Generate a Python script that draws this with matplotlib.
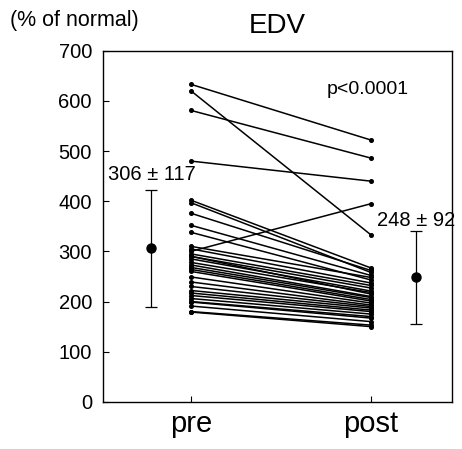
import matplotlib
matplotlib.use('Agg')
import matplotlib.pyplot as plt

plt.rcParams['font.family'] = ['Liberation Sans', 'DejaVu Sans']

# paired values, % of normal EDV
pre = [633, 620, 581, 480, 300,
       402, 397, 376, 352, 338, 310, 305, 295, 290, 290, 285, 278, 273, 268,
       264, 260, 249, 239, 230, 222, 217, 212, 206, 200, 199, 191, 180, 179]
post = [522, 333, 486, 440, 395,
        267, 258, 262, 252, 243, 248, 237, 232, 227, 215, 221, 218, 210, 208,
        204, 201, 197, 193, 190, 187, 183, 180, 175, 170, 167, 160, 153, 150]

groups = ['pre', 'post']
means = [306, 248]
sds = [117, 92]
p_text = 'p<0.0001'

fig = plt.figure(figsize=(4.62, 4.49), dpi=100)
ax = fig.add_axes([0.223, 0.105, 0.755, 0.782])

for a, b in zip(pre, post):
    ax.plot([1, 2], [a, b], color='black', lw=1.1, marker='o', ms=2.6)

# mean +/- SD beside each column
ax.errorbar([0.78, 2.25], means, yerr=sds, fmt='o', color='black',
            ms=6.5, elinewidth=0.9, capsize=4, capthick=0.9)

ax.text(0.78, 453, '%d ± %d' % (means[0], sds[0]), ha='center', va='center', fontsize=14.5)
ax.text(2.25, 361, '%d ± %d' % (means[1], sds[1]), ha='center', va='center', fontsize=14.5)
ax.text(1.98, 622, p_text, ha='center', va='center', fontsize=14)

ax.set_xlim(0.511, 2.45)
ax.set_ylim(0, 700)
ax.set_yticks(range(0, 701, 100))
ax.set_xticks([1, 2])
ax.set_xticklabels(groups, fontsize=21)
ax.tick_params(axis='y', direction='in', length=4, labelsize=14.5, pad=8)
ax.tick_params(axis='x', direction='in', length=4, pad=6)
for s in ax.spines.values():
    s.set_linewidth(1.0)

ax.set_title('EDV', fontsize=20, pad=13)
fig.text(0.022, 0.955, '(% of normal)', fontsize=15.5, va='center')

fig.savefig('out.png', dpi=100)
